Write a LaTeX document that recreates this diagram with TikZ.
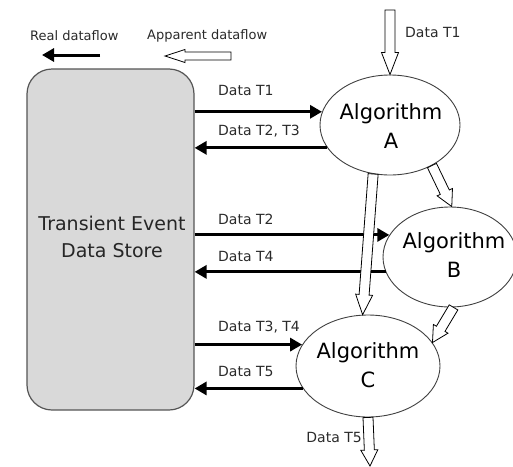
\documentclass[tikz,border=0pt]{standalone}
\usepackage{fontspec}
\setmainfont{DejaVu Sans}
\usetikzlibrary{calc,shapes.geometric,arrows.meta}

\definecolor{storefill}{HTML}{D9D9D9}
\definecolor{storeline}{HTML}{555555}
\definecolor{inkgray}{HTML}{2A2A2A}

% Hollow (apparent dataflow) arrow: #1 from, #2 to,
% #3 half shaft width, #4 half head width, #5 head length
\newcommand\hollowflow[5]{%
  \coordinate (hfa) at (#1);
  \coordinate (hfb) at (#2);
  \coordinate (hfh) at ($(hfb)!#5!(hfa)$);
  \draw[hollow]
    ($(hfa)!#3!90:(hfb)$) -- ($(hfh)!#3!90:(hfb)$) -- ($(hfh)!#4!90:(hfb)$)
    -- (hfb)
    -- ($(hfh)!#4!-90:(hfb)$) -- ($(hfh)!#3!-90:(hfb)$) -- ($(hfa)!#3!-90:(hfb)$)
    -- cycle;
}

\tikzset{
  store/.style={draw=storeline, line width=1.2pt, fill=storefill,
    rounded corners=25pt, rectangle, inner sep=0pt},
  algo/.style={ellipse, draw=black!75, line width=0.9pt, fill=white, inner sep=0pt},
  algotext/.style={font=\fontsize{21}{29}\selectfont, align=center, inner sep=0pt},
  storetext/.style={font=\fontsize{19}{27}\selectfont, align=center, inner sep=0pt, text=black!85},
  lbl/.style={font=\fontsize{14}{16}\selectfont, text=inkgray, inner sep=0pt},
  legend/.style={font=\fontsize{13}{15}\selectfont, text=inkgray, inner sep=0pt},
  flow/.style={draw=black, line width=3pt,
    -{Triangle[length=12pt,width=13pt]}},
  hollow/.style={draw=black, line width=0.8pt, fill=white, line join=miter},
}

\begin{document}
\begin{tikzpicture}[x=1pt,y=-1pt]
  \useasboundingbox (0,0) rectangle (513,466);

  % data store
  \node[store, minimum width=167pt, minimum height=341pt] (store) at (110.5,239.5) {};
  \node[storetext] (storelbl) at (112,237) {Transient Event\\Data Store};

  % algorithms
  \node[algo, minimum width=140pt, minimum height=100pt] (A) at (390,125) {};
  \node[algo, minimum width=134pt, minimum height=100pt] (B) at (450,257) {};
  \node[algo, minimum width=144pt, minimum height=102pt] (C) at (368,366) {};
  \node[algotext] (Atxt) at (391,126) {Algorithm\\A};
  \node[algotext] (Btxt) at (454,255) {Algorithm\\B};
  \node[algotext] (Ctxt) at (368,365) {Algorithm\\C};

  % real dataflow between store and algorithms
  \draw[flow] (A.169 -| store.east) -- (A.169);
  \draw[flow] (A.200) -- (A.200 -| store.east);
  \draw[flow] (B.160 -| store.east) -- (B.160);
  \draw[flow] (B.193) -- (B.193 -| store.east);
  \draw[flow] (C.162 -| store.east) -- (C.162);
  \draw[flow] (C.199) -- (C.199 -| store.east);

  % apparent dataflow between algorithms
  \coordinate (inT1) at (390,10);
  \coordinate (outT5) at (370,466);
  \hollowflow{inT1}{A.north}{5pt}{8.5pt}{22pt}
  \hollowflow{A.251}{C.96}{5pt}{8.5pt}{20pt}
  \hollowflow{A.316}{B.88}{5pt}{8.5pt}{16pt}
  \hollowflow{B.274}{C.20}{5pt}{8.5pt}{16pt}
  \hollowflow{C.south}{outT5}{5pt}{8.5pt}{16pt}

  % labels
  \node[lbl, anchor=west] (l1) at (218,90) {Data T1};
  \node[lbl, anchor=west] (l2) at (218,131) {Data T2, T3};
  \node[lbl, anchor=west] (l3) at (218,219) {Data T2};
  \node[lbl, anchor=west] (l4) at (218,256) {Data T4};
  \node[lbl, anchor=west] (l5) at (218,327) {Data T3, T4};
  \node[lbl, anchor=west] (l6) at (218,371) {Data T5};
  \node[lbl, anchor=west] (ltop) at (405,32) {Data T1};
  \node[lbl, anchor=east] (lbot) at (362,437) {Data T5};

  % legend
  \node[legend, anchor=west] (realtxt) at (30,36) {Real dataflow};
  \node[legend, anchor=west] (apptxt) at (147,36) {Apparent dataflow};
  \coordinate (realS) at (100,55);
  \coordinate (realE) at (42,55);
  \draw[flow] (realS) -- (realE);
  \coordinate (appS) at (231,56);
  \coordinate (appE) at (165,56);
  \hollowflow{appS}{appE}{4pt}{6.5pt}{20pt}
\end{tikzpicture}
\end{document}
